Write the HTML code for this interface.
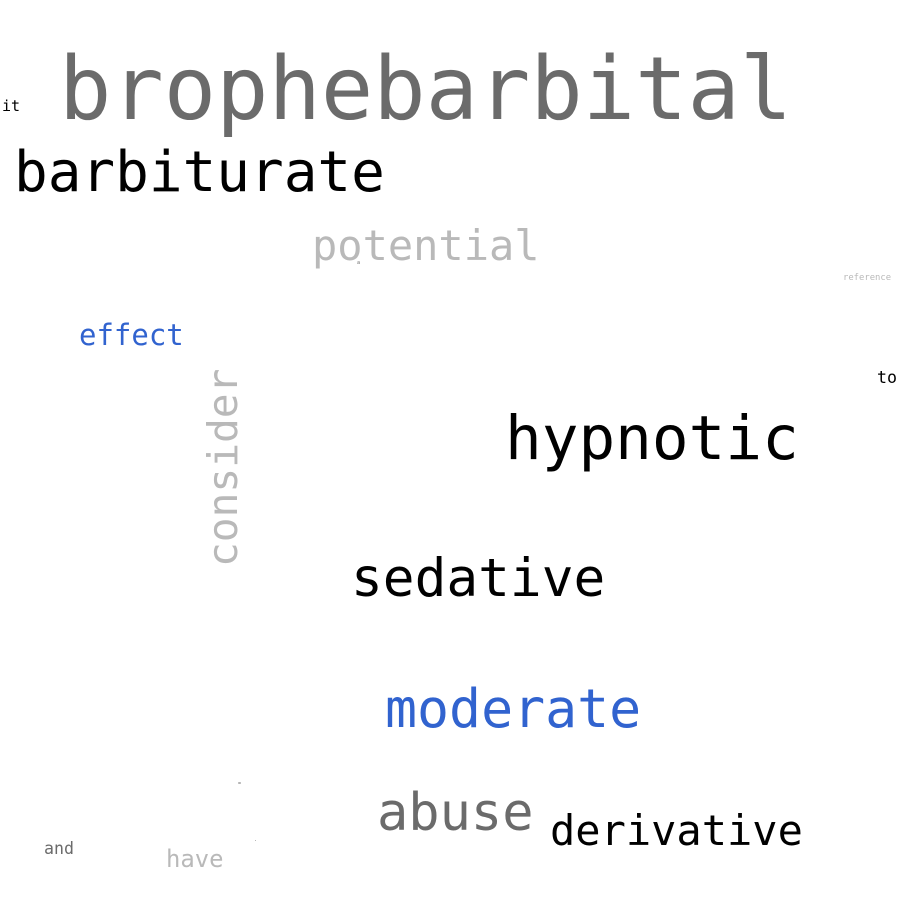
<!DOCTYPE html>
<html><head><meta charset="utf-8"><style>
html,body{margin:0;padding:0;background:#fff;}
svg{display:block;}
text{font-family:"DejaVu Sans Mono","Liberation Mono",monospace;}
</style></head><body>
<svg width="900" height="900" xmlns="http://www.w3.org/2000/svg">
<rect width="900" height="900" fill="#fff"/>
<text x="59" y="119" font-size="87" fill="#6b6b6b">brophebarbital</text>
<text x="14" y="191" font-size="56" fill="#000">barbiturate</text>
<text x="312" y="260" font-size="42" fill="#b9b9b9">potential</text>
<text x="79" y="345" font-size="29" fill="#3163cf">effect</text>
<text x="505" y="459" font-size="61" fill="#000">hypnotic</text>
<text x="351" y="596" font-size="52.8" fill="#000">sedative</text>
<text x="385" y="727" font-size="53.2" fill="#3163cf">moderate</text>
<text x="377" y="830" font-size="52" fill="#6b6b6b">abuse</text>
<text x="550" y="845" font-size="42" fill="#000">derivative</text>
<text transform="translate(237,567) rotate(-90)" x="0" y="0" font-size="41.2" fill="#b9b9b9">consider</text>
<text x="166" y="867" font-size="23.9" fill="#b9b9b9">have</text>
<text x="44" y="854" font-size="16.6" fill="#6b6b6b">and</text>
<text x="2" y="111" font-size="15" fill="#000">it</text>
<text x="877" y="383" font-size="16.6" fill="#000">to</text>
<text x="843" y="280" font-size="8.9" fill="#b9b9b9">reference</text>
<text x="357" y="264" font-size="5" fill="#6b6b6b">a</text>
<text x="238" y="785" font-size="5" fill="#6b6b6b">=</text>
<text x="254" y="841" font-size="5" fill="#6b6b6b">.</text>
</svg>
</body></html>
